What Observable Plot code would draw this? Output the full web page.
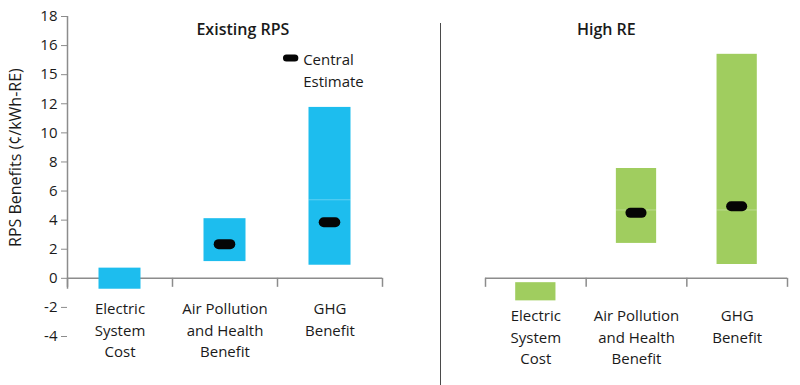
<!DOCTYPE html>
<html><head><meta charset="utf-8">
<script src="https://cdn.jsdelivr.net/npm/d3@7"></script>
<script src="https://cdn.jsdelivr.net/npm/@observablehq/plot@0.6"></script>
<style>
body{margin:0;background:#fff;}
#wrap{position:relative;width:800px;height:385px;overflow:hidden;font-family:"Open Sans",sans-serif;}
#left,#right{position:absolute;top:0;}
#left{left:0}
#right{left:441px}
#divider{position:absolute;left:440px;top:23px;height:362px;border-left:1.5px solid #4a4a4a;}
</style></head><body>
<div id="wrap"><div id="left"></div><div id="divider"></div><div id="right"></div></div>
<script>
// ---- data ----
const categories = ["Electric\nSystem\nCost", "Air Pollution\nand Health\nBenefit", "GHG\nBenefit"];
const panelTitles = ["Existing RPS", "High RE"];
const rpsLow = [-0.75, 1.15, 0.9];
const rpsHigh = [0.7, 4.1, 11.75];
const rpsCentral = [null, 2.35, 3.85];
const rpsSplit = [null, null, 5.4];
const highLow = [-1.55, 2.4, 0.95];
const highHigh = [-0.3, 7.55, 15.4];
const highCentral = [null, 4.5, 4.95];
const highSplit = [null, 4.7, 4.7];
const yTicks = [-4, -2, 0, 2, 4, 6, 8, 10, 12, 14, 16, 18];
const yTickLabels = ["-4", "-2", "0", "2", "4", "6", "8", "10", "12", "15", "16", "18"];
const yLabel = "RPS Benefits (\u00A2/kWh-RE)";
const legendLabel = "Central\nEstimate";

// ---- helpers ----
const rows = (low, high, central, split) =>
  categories.map((cat, i) => ({cat, i, low: low[i], high: high[i], central: central[i], split: split[i]}));
const rpsRows = rows(rpsLow, rpsHigh, rpsCentral, rpsSplit);
const highRows = rows(highLow, highHigh, highCentral, highSplit);
const axisGray = "#8c8c8c";
const textColor = "#1a1a1a";
const barHalf = 0.2, markHalf = 0.055, tickLen = 0.62;

function panelMarks(data, color, title, titleX, labelDy) {
  return [
    Plot.ruleY([0], {stroke: axisGray, strokeWidth: 1.5}),
    Plot.ruleX(d3.range(categories.length + 1), {x: d => d, y1: 0, y2: -tickLen, stroke: axisGray, strokeWidth: 1.5}),
    Plot.rectY(data, {x1: d => d.i + 0.5 - barHalf, x2: d => d.i + 0.5 + barHalf, y1: "low", y2: "high", fill: color}),
    Plot.ruleY(data.filter(d => d.split != null), {x1: d => d.i + 0.5 - barHalf, x2: d => d.i + 0.5 + barHalf, y: "split", stroke: "#fff", strokeOpacity: 0.3, strokeWidth: 1}),
    Plot.ruleY(data.filter(d => d.central != null), {x1: d => d.i + 0.5 - markHalf, x2: d => d.i + 0.5 + markHalf, y: "central", stroke: "#050505", strokeWidth: 10, strokeLinecap: "round"}),
    Plot.text(data, {x: d => d.i + 0.5, y: 0, text: "cat", lineAnchor: "top", dy: labelDy, fontSize: 15, lineHeight: 1.45, fill: textColor}),
    Plot.text([title], {x: titleX, y: 18, text: d => d, dy: 13, fontSize: 16, fontWeight: 600, fill: textColor})
  ];
}

const common = {
  height: 385,
  marginTop: 16,
  marginBottom: 49,
  y: {domain: [-4, 18]},
  x: {domain: [0, 3]},
  style: {fontFamily: "'Open Sans', sans-serif", fontSize: "15px", color: textColor, background: "transparent"}
};

const left = Plot.plot({
  ...common,
  width: 441,
  marginLeft: 67,
  marginRight: 59,
  marks: [
    Plot.axisX({ticks: []}),
    Plot.axisY({ticks: yTicks, tickFormat: d => yTickLabels[yTicks.indexOf(d)], tickSize: 6, tickPadding: 4, stroke: axisGray, fill: textColor, label: null, fontSize: 15}),
    Plot.ruleX([0], {y1: 18, y2: d3.min(rpsLow), stroke: axisGray, strokeWidth: 1.5}),
    Plot.text([yLabel], {frameAnchor: "left", y: 8.3, text: d => d, rotate: -90, textAnchor: "middle", dx: -52, fontSize: 16, fill: textColor}),
    ...panelMarks(rpsRows, "#1dbdee", panelTitles[0], 1.67, 20),
    Plot.ruleY([15.15], {x1: 2.13 - 0.04, x2: 2.13 + 0.04, stroke: "#050505", strokeWidth: 7, strokeLinecap: "round"}),
    Plot.text([legendLabel], {x: 2.13, y: 15.15, text: d => d, dx: 12, dy: 11, textAnchor: "start", lineAnchor: "middle", lineHeight: 1.47, fontSize: 15, fill: textColor})
  ]
});

const right = Plot.plot({
  ...common,
  width: 359,
  marginLeft: 44,
  marginRight: 13,
  marks: [
    Plot.axisX({ticks: []}),
    Plot.axisY({ticks: []}),
    ...panelMarks(highRows, "#a0cd5f", panelTitles[1], 1.2, 27)
  ]
});

document.getElementById("left").appendChild(left);
document.getElementById("right").appendChild(right);
</script>
</body></html>
